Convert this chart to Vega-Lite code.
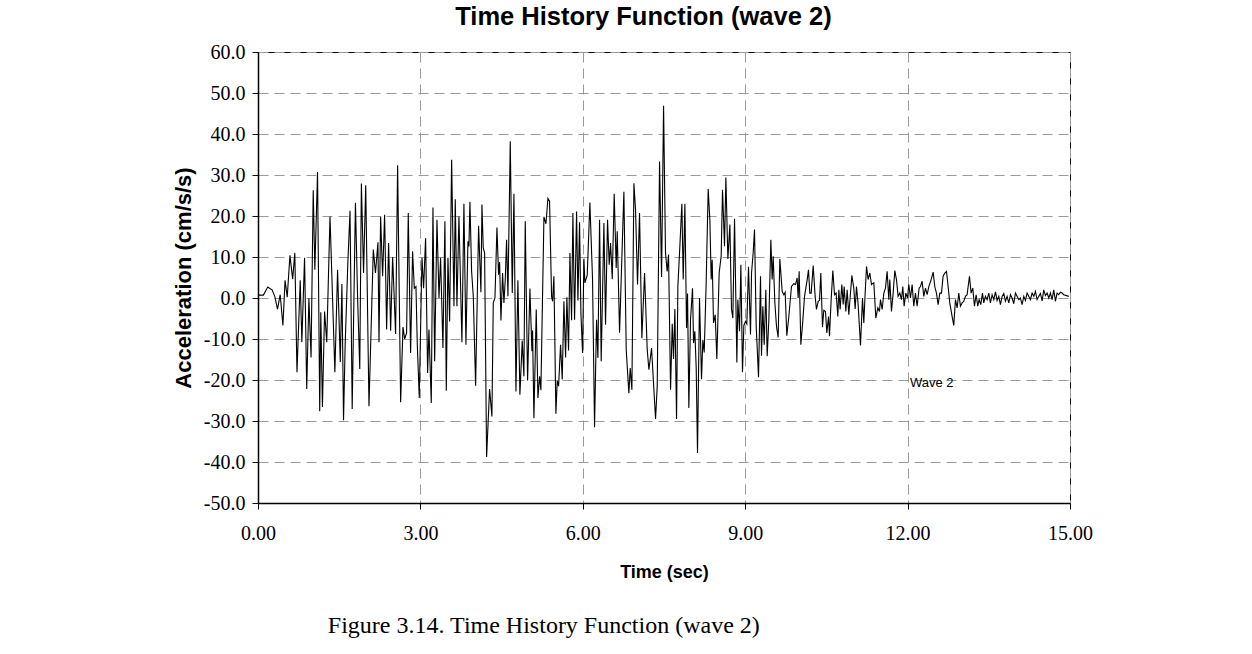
{
  "$schema": "https://vega.github.io/schema/vega-lite/v6.json",
  "autosize": {"type": "pad"},
  "padding": {"left": 171, "top": 4, "right": 5, "bottom": 5},
  "background": "white",
  "title": {
    "text": "Figure 3.14. Time History Function (wave 2)",
    "orient": "bottom",
    "anchor": "start",
    "frame": "bounds",
    "font": "Liberation Serif",
    "fontSize": 24,
    "fontWeight": "normal",
    "color": "black",
    "dx": 156,
    "offset": 32
  },
  "data": {"values": [
    {"t":0,"a":0.7},{"t":0.10,"a":0.7},{"t":0.18,"a":2.7},{"t":0.26,"a":2.0},{"t":0.31,"a":0.4},{"t":0.36,"a":-2.7},{"t":0.41,"a":0.8},{"t":0.46,"a":-6.7},{"t":0.50,"a":4.3},{"t":0.54,"a":0.2},
    {"t":0.59,"a":10.4},{"t":0.64,"a":4.6},{"t":0.68,"a":11.0},{"t":0.72,"a":-18.1},{"t":0.78,"a":4.3},{"t":0.81,"a":-10.8},{"t":0.86,"a":9.8},{"t":0.90,"a":-22.2},{"t":0.94,"a":-0.1},{"t":0.98,"a":-14.5},
    {"t":1.02,"a":26.3},{"t":1.05,"a":6.9},{"t":1.10,"a":30.7},{"t":1.14,"a":-27.6},{"t":1.16,"a":-3.5},{"t":1.19,"a":-26.6},{"t":1.23,"a":-3.3},{"t":1.27,"a":-10.8},{"t":1.33,"a":19.9},{"t":1.42,"a":-18.1},
    {"t":1.47,"a":6.9},{"t":1.52,"a":-15.6},{"t":1.55,"a":3.4},{"t":1.58,"a":-29.8},{"t":1.61,"a":-11.5},{"t":1.66,"a":8.7},{"t":1.70,"a":21.3},{"t":1.74,"a":-27.1},{"t":1.80,"a":23.2},{"t":1.84,"a":0},
    {"t":1.88,"a":-17.3},{"t":1.91,"a":27.9},{"t":1.95,"a":6.1},{"t":1.99,"a":27.5},{"t":2.05,"a":-26.4},{"t":2.13,"a":11.8},{"t":2.17,"a":6.1},{"t":2.216,"a":13.6},{"t":2.235,"a":-10.8},{"t":2.265,"a":19.9},
    {"t":2.302,"a":5.3},{"t":2.339,"a":20.3},{"t":2.376,"a":-7.7},{"t":2.413,"a":13.4},{"t":2.45,"a":-8.0},{"t":2.487,"a":10.0},{"t":2.542,"a":-8.8},{"t":2.579,"a":32.4},{"t":2.635,"a":-25.4},{"t":2.678,"a":-7.1},
    {"t":2.709,"a":-10.0},{"t":2.745,"a":-8.5},{"t":2.776,"a":20.7},{"t":2.819,"a":-13.4},{"t":2.856,"a":11.4},{"t":2.887,"a":2.4},{"t":2.918,"a":2.8},{"t":2.942,"a":-11.1},{"t":2.979,"a":-24.4},{"t":3.029,"a":9.8},
    {"t":3.059,"a":2.4},{"t":3.096,"a":14.6},{"t":3.133,"a":-18.3},{"t":3.158,"a":-7.7},{"t":3.201,"a":-25.6},{"t":3.232,"a":22.1},{"t":3.263,"a":-15.4},{"t":3.306,"a":19.1},{"t":3.343,"a":0},{"t":3.373,"a":9.8},
    {"t":3.416,"a":-12.2},{"t":3.453,"a":18.7},{"t":3.478,"a":-22.6},{"t":3.509,"a":9.8},{"t":3.54,"a":-5.7},{"t":3.577,"a":33.7},{"t":3.62,"a":-2.0},{"t":3.644,"a":24.1},{"t":3.675,"a":-2.0},{"t":3.712,"a":19.9},
    {"t":3.767,"a":-10.8},{"t":3.804,"a":23.0},{"t":3.841,"a":-11.4},{"t":3.878,"a":13.8},{"t":3.897,"a":12.6},{"t":3.915,"a":23.5},{"t":3.946,"a":6.5},{"t":3.977,"a":0.4},{"t":4.02,"a":-21.4},{"t":4.075,"a":17.6},
    {"t":4.118,"a":1.4},{"t":4.137,"a":22.8},{"t":4.161,"a":12.2},{"t":4.186,"a":11.0},{"t":4.223,"a":-38.8},{"t":4.278,"a":-22.2},{"t":4.321,"a":-28.9},{"t":4.346,"a":-1.2},{"t":4.377,"a":0},{"t":4.414,"a":17.2},
    {"t":4.444,"a":5.7},{"t":4.463,"a":8.8},{"t":4.488,"a":-5.5},{"t":4.518,"a":6.1},{"t":4.543,"a":-1.2},{"t":4.568,"a":4.6},{"t":4.592,"a":14.2},{"t":4.617,"a":0.4},{"t":4.66,"a":38.2},{"t":4.697,"a":1.2},
    {"t":4.728,"a":25.4},{"t":4.765,"a":-22.8},{"t":4.801,"a":4.3},{"t":4.838,"a":-23.6},{"t":4.881,"a":-10.4},{"t":4.912,"a":-19.1},{"t":4.937,"a":18.7},{"t":4.98,"a":-20.1},{"t":5.023,"a":2.3},{"t":5.06,"a":-13.0},
    {"t":5.072,"a":-7.9},{"t":5.097,"a":-29.3},{"t":5.14,"a":-2.8},{"t":5.171,"a":-24.4},{"t":5.202,"a":-19.1},{"t":5.226,"a":-22.5},{"t":5.282,"a":19.8},{"t":5.319,"a":18.1},{"t":5.356,"a":24.3},{"t":5.386,"a":23.6},
    {"t":5.423,"a":0.4},{"t":5.442,"a":-0.8},{"t":5.466,"a":5.3},{"t":5.503,"a":-28.2},{"t":5.528,"a":-20.1},{"t":5.553,"a":-21.5},{"t":5.589,"a":-11.4},{"t":5.62,"a":-19.9},{"t":5.651,"a":-0.8},{"t":5.682,"a":-14.5},
    {"t":5.706,"a":0.2},{"t":5.737,"a":-12.8},{"t":5.762,"a":11.0},{"t":5.793,"a":-5.4},{"t":5.817,"a":20.7},{"t":5.848,"a":-5.3},{"t":5.885,"a":21.1},{"t":5.91,"a":-0.6},{"t":5.94,"a":18.5},{"t":5.965,"a":-3.7},
    {"t":5.996,"a":-13.4},{"t":6.02,"a":9.6},{"t":6.039,"a":3.7},{"t":6.082,"a":5.6},{"t":6.131,"a":23.3},{"t":6.18,"a":4.5},{"t":6.217,"a":-31.5},{"t":6.254,"a":-5.3},{"t":6.279,"a":-14.6},{"t":6.31,"a":19.1},
    {"t":6.34,"a":-15.4},{"t":6.39,"a":18.3},{"t":6.42,"a":-6.5},{"t":6.457,"a":19.1},{"t":6.488,"a":8.1},{"t":6.513,"a":13.4},{"t":6.544,"a":4.6},{"t":6.58,"a":25.4},{"t":6.617,"a":7.3},{"t":6.636,"a":16.3},
    {"t":6.679,"a":-8.5},{"t":6.759,"a":25.9},{"t":6.802,"a":-12.6},{"t":6.851,"a":-23.2},{"t":6.876,"a":-17.1},{"t":6.907,"a":-22.4},{"t":6.944,"a":28.0},{"t":6.974,"a":21.5},{"t":7.011,"a":3.3},{"t":7.048,"a":20.7},
    {"t":7.091,"a":-9.8},{"t":7.141,"a":6.1},{"t":7.19,"a":-12.6},{"t":7.221,"a":-17.5},{"t":7.27,"a":-12.2},{"t":7.344,"a":-29.5},{"t":7.375,"a":-21.5},{"t":7.418,"a":33.3},{"t":7.455,"a":5.1},{"t":7.492,"a":46.9},
    {"t":7.528,"a":11.0},{"t":7.559,"a":6.5},{"t":7.584,"a":10.6},{"t":7.621,"a":-22.4},{"t":7.652,"a":-6.3},{"t":7.676,"a":-14.9},{"t":7.701,"a":-2.7},{"t":7.732,"a":-29.5},{"t":7.756,"a":2.8},{"t":7.793,"a":12.6},
    {"t":7.83,"a":23.0},{"t":7.855,"a":4.5},{"t":7.886,"a":23.0},{"t":7.916,"a":-7.3},{"t":7.935,"a":1.1},{"t":7.959,"a":-26.8},{"t":7.99,"a":-5.3},{"t":8.027,"a":2.4},{"t":8.046,"a":-11.0},{"t":8.07,"a":-8.1},
    {"t":8.095,"a":-17.1},{"t":8.119,"a":-37.8},{"t":8.156,"a":0},{"t":8.193,"a":-19.8},{"t":8.218,"a":-10.2},{"t":8.243,"a":-13.3},{"t":8.279,"a":3.7},{"t":8.316,"a":26.6},{"t":8.347,"a":19.1},{"t":8.372,"a":4.5},
    {"t":8.39,"a":9.3},{"t":8.415,"a":-6.1},{"t":8.446,"a":-4.1},{"t":8.476,"a":-14.9},{"t":8.519,"a":6.1},{"t":8.556,"a":10.2},{"t":8.581,"a":26.4},{"t":8.618,"a":12.6},{"t":8.643,"a":29.4},{"t":8.68,"a":9.5},
    {"t":8.717,"a":17.9},{"t":8.747,"a":-2.8},{"t":8.772,"a":-4.9},{"t":8.803,"a":19.3},{"t":8.846,"a":-15.7},{"t":8.864,"a":-0.4},{"t":8.895,"a":-8.1},{"t":8.92,"a":8.1},{"t":8.95,"a":-18.1},{"t":8.975,"a":-6.7},
    {"t":9.006,"a":-5.7},{"t":9.03,"a":-6.3},{"t":9.061,"a":7.6},{"t":9.098,"a":-8.9},{"t":9.117,"a":6.1},{"t":9.147,"a":11.0},{"t":9.172,"a":16.7},{"t":9.203,"a":-6.9},{"t":9.246,"a":-19.3},{"t":9.283,"a":5.3},
    {"t":9.301,"a":-14.1},{"t":9.326,"a":-2.0},{"t":9.351,"a":-11.4},{"t":9.381,"a":2.0},{"t":9.406,"a":-14.2},{"t":9.437,"a":-5.3},{"t":9.474,"a":14.2},{"t":9.498,"a":4.5},{"t":9.517,"a":10.2},{"t":9.548,"a":-1.2},
    {"t":9.578,"a":-6.9},{"t":9.609,"a":-9.6},{"t":9.64,"a":9.5},{"t":9.683,"a":1.6},{"t":9.714,"a":0.8},{"t":9.738,"a":1.4},{"t":9.769,"a":-9.2},{"t":9.806,"a":-4.5},{"t":9.855,"a":2.8},{"t":9.898,"a":3.5},
    {"t":9.929,"a":3.3},{"t":9.96,"a":4.9},{"t":9.978,"a":0},{"t":9.997,"a":6.5},{"t":10.028,"a":-11.4},{"t":10.059,"a":-6.5},{"t":10.096,"a":0.4},{"t":10.145,"a":4.5},{"t":10.169,"a":6.9},{"t":10.194,"a":1.2},
    {"t":10.219,"a":1.2},{"t":10.256,"a":7.9},{"t":10.292,"a":0.4},{"t":10.317,"a":-2.8},{"t":10.348,"a":-0.8},{"t":10.373,"a":-0.6},{"t":10.397,"a":6.1},{"t":10.428,"a":-7.1},{"t":10.452,"a":-3.0},{"t":10.483,"a":-3.3},
    {"t":10.508,"a":-8.5},{"t":10.539,"a":-4.5},{"t":10.557,"a":-9.3},{"t":10.588,"a":-0.4},{"t":10.619,"a":6.7},{"t":10.65,"a":0.8},{"t":10.68,"a":1.2},{"t":10.711,"a":-4.5},{"t":10.73,"a":2.0},{"t":10.754,"a":-2.8},
    {"t":10.785,"a":3.3},{"t":10.81,"a":-1.6},{"t":10.828,"a":2.8},{"t":10.859,"a":-3.3},{"t":10.883,"a":2.0},{"t":10.914,"a":-4.1},{"t":10.945,"a":1.2},{"t":10.97,"a":5.5},{"t":11.006,"a":2.4},{"t":11.031,"a":-2.7},
    {"t":11.056,"a":2.8},{"t":11.086,"a":-1.6},{"t":11.13,"a":-11.6},{"t":11.167,"a":0},{"t":11.191,"a":-6.1},{"t":11.216,"a":1.2},{"t":11.241,"a":7.7},{"t":11.271,"a":4.5},{"t":11.302,"a":6.1},{"t":11.333,"a":3.3},
    {"t":11.376,"a":3.7},{"t":11.413,"a":-4.9},{"t":11.45,"a":-2.4},{"t":11.48,"a":-3.3},{"t":11.499,"a":-0.4},{"t":11.53,"a":-2.8},{"t":11.561,"a":1.2},{"t":11.591,"a":2.4},{"t":11.622,"a":6.5},{"t":11.653,"a":-0.4},
    {"t":11.671,"a":4.5},{"t":11.702,"a":-3.3},{"t":11.733,"a":1.2},{"t":11.764,"a":6.7},{"t":11.794,"a":4.5},{"t":11.825,"a":0.4},{"t":11.856,"a":1.2},{"t":11.887,"a":-0.4},{"t":11.911,"a":2.8},{"t":11.936,"a":-2.0},
    {"t":11.967,"a":1.2},{"t":11.998,"a":0},{"t":12.022,"a":3.3},{"t":12.053,"a":0},{"t":12.084,"a":3.3},{"t":12.114,"a":-2.0},{"t":12.145,"a":1.2},{"t":12.176,"a":-2.0},{"t":12.213,"a":2.4},{"t":12.238,"a":2.8},
    {"t":12.268,"a":4.1},{"t":12.299,"a":0.4},{"t":12.33,"a":2.4},{"t":12.361,"a":0.8},{"t":12.392,"a":2.8},{"t":12.435,"a":4.5},{"t":12.472,"a":6.3},{"t":12.502,"a":2.8},{"t":12.533,"a":1.2},{"t":12.564,"a":-1.6},
    {"t":12.595,"a":1.2},{"t":12.626,"a":1.2},{"t":12.656,"a":5.3},{"t":12.687,"a":6.1},{"t":12.718,"a":6.5},{"t":12.749,"a":2.8},{"t":12.779,"a":-1.2},{"t":12.822,"a":-4.5},{"t":12.853,"a":-6.7},{"t":12.884,"a":-0.4},
    {"t":12.915,"a":-2.4},{"t":12.946,"a":1.2},{"t":12.976,"a":-2.0},{"t":13.007,"a":-1.2},{"t":13.038,"a":-0.8},{"t":13.069,"a":0.4},{"t":13.099,"a":0.8},{"t":13.143,"a":5.3},{"t":13.173,"a":1.2},{"t":13.204,"a":2.4},
    {"t":13.235,"a":-2.0},{"t":13.266,"a":0.8},{"t":13.296,"a":-2.0},{"t":13.321,"a":-0.4},{"t":13.352,"a":-1.6},{"t":13.383,"a":1.2},{"t":13.407,"a":-1.2},{"t":13.438,"a":0.4},{"t":13.469,"a":-0.4},{"t":13.5,"a":1.2},
    {"t":13.53,"a":-1.2},{"t":13.561,"a":0.8},{"t":13.592,"a":-0.4},{"t":13.623,"a":1.5},{"t":13.653,"a":-0.6},{"t":13.684,"a":0.4},{"t":13.715,"a":-1.6},{"t":13.746,"a":0.4},{"t":13.777,"a":1.1},{"t":13.807,"a":-0.8},
    {"t":13.838,"a":0.4},{"t":13.869,"a":-1.2},{"t":13.9,"a":0.8},{"t":13.93,"a":0},{"t":13.961,"a":-1.4},{"t":13.992,"a":1.2},{"t":14.023,"a":0.4},{"t":14.054,"a":-0.4},{"t":14.084,"a":0},{"t":14.115,"a":-1.6},
    {"t":14.146,"a":0.4},{"t":14.177,"a":-0.6},{"t":14.207,"a":1.2},{"t":14.238,"a":0.4},{"t":14.269,"a":-0.4},{"t":14.3,"a":1.2},{"t":14.331,"a":0.4},{"t":14.361,"a":1.6},{"t":14.392,"a":-0.4},{"t":14.423,"a":0.4},
    {"t":14.454,"a":1.1},{"t":14.485,"a":-0.7},{"t":14.515,"a":2.0},{"t":14.546,"a":0.6},{"t":14.577,"a":1.2},{"t":14.608,"a":0},{"t":14.638,"a":1.2},{"t":14.669,"a":-0.4},{"t":14.7,"a":2.0},{"t":14.731,"a":-0.8},
    {"t":14.761,"a":1.2},{"t":14.792,"a":0.8},{"t":14.823,"a":1.4},{"t":14.854,"a":1.2},{"t":14.885,"a":0.8},{"t":14.977,"a":0.4}
  ]},
  "vconcat": [
    {
      "width": 812,
      "height": 451,
      "title": {
        "text": "Time History Function (wave 2)",
        "anchor": "middle",
        "frame": "bounds",
        "font": "Liberation Sans",
        "fontSize": 25.5,
        "fontWeight": "bold",
        "color": "black",
        "dx": 11,
        "offset": 12
      },
      "mark": {"type": "line", "strokeWidth": 1.1, "interpolate": "linear"},
      "encoding": {
        "x": {
          "field": "t", "type": "quantitative",
          "scale": {"domain": [0, 15], "nice": false, "zero": false},
          "axis": {
            "title": "Time (sec)",
            "values": [0, 3, 6, 9, 12, 15],
            "format": ".2f",
            "labelFlush": false,
            "labelFont": "Liberation Serif", "labelFontSize": 20, "labelColor": "black",
            "labelPadding": 14,
            "titleFont": "Liberation Sans", "titleFontSize": 18, "titleFontWeight": "bold", "titleColor": "black",
            "titlePadding": 20,
            "domainColor": "black", "domainWidth": 1.5,
            "tickColor": "black", "tickSize": 6, "tickWidth": 1,
            "grid": true, "gridColor": "#9a9a9a", "gridDash": [10, 6], "gridWidth": 1
          }
        },
        "y": {
          "field": "a", "type": "quantitative",
          "scale": {"domain": [-50, 60], "nice": false, "zero": false},
          "axis": {
            "title": "Acceleration (cm/s/s)",
            "values": [-50, -40, -30, -20, -10, 0, 10, 20, 30, 40, 50, 60],
            "format": ".1f",
            "labelFont": "Liberation Serif", "labelFontSize": 20, "labelColor": "black",
            "labelPadding": 7,
            "titleFont": "Liberation Sans", "titleFontSize": 22, "titleFontWeight": "bold", "titleColor": "black",
            "titlePadding": 8,
            "domainColor": "black", "domainWidth": 1.5,
            "tickColor": "black", "tickSize": 6, "tickWidth": 1,
            "grid": true, "gridColor": "#9a9a9a", "gridDash": [10, 6], "gridWidth": 1
          }
        },
        "color": {
          "datum": "Wave 2",
          "type": "nominal",
          "scale": {"range": ["black"]},
          "legend": {
            "title": null,
            "orient": "none",
            "legendX": 639,
            "legendY": 324,
            "symbolSize": 0,
            "symbolOpacity": 0,
            "symbolStrokeWidth": 0,
            "labelOffset": 0,
            "labelFont": "Liberation Sans",
            "labelFontSize": 13,
            "labelColor": "black"
          }
        }
      }
    }
  ],
  "config": {
    "view": {"stroke": "black", "strokeWidth": 1},
    "concat": {"spacing": 0},
    "locale": {"number": {"decimal": ".", "thousands": ",", "grouping": [3], "currency": ["$", ""], "minus": "-"}}
  }
}
